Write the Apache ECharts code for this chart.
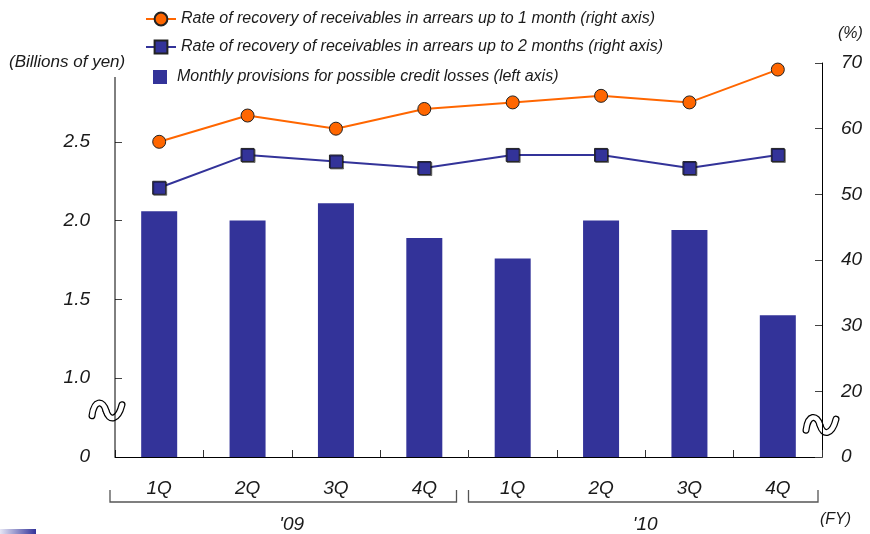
<!DOCTYPE html>
<html>
<head>
<meta charset="utf-8">
<script src="https://cdn.jsdelivr.net/npm/echarts@6/dist/echarts.min.js"></script>
<style>
  html, body { margin: 0; padding: 0; background: #fff; }
  #chart { width: 870px; height: 534px; }
</style>
</head>
<body>
<div id="chart"></div>
<script>
// Quarterly categories and fiscal-year groups
const quarters = ['1Q', '2Q', '3Q', '4Q', '1Q', '2Q', '3Q', '4Q'];
const fiscalYears = ["'09", "'10"];

// Monthly provisions for possible credit losses (billions of yen, left axis)
const provisions = [2.06, 2.00, 2.11, 1.89, 1.76, 2.00, 1.94, 1.40];
// Recovery rates (%, right axis)
const recovery1m = [58, 62, 60, 63, 64, 65, 64, 69];
const recovery2m = [51, 56, 55, 54, 56, 56, 54, 56];

// Broken-axis tick labels: the lowest tick stands for zero
const leftTickValues = [0.5, 1.0, 1.5, 2.0, 2.5];
const leftTickLabels = ['0', '1.0', '1.5', '2.0', '2.5'];
const rightTickValues = [10, 20, 30, 40, 50, 60, 70];
const rightTickLabels = ['0', '20', '30', '40', '50', '60', '70'];

const seriesNames = [
  'Rate of recovery of receivables in arrears up to 1 month (right axis)',
  'Rate of recovery of receivables in arrears up to 2 months (right axis)',
  'Monthly provisions for possible credit losses (left axis)'
];

const FONT = "'Liberation Sans', Arial, sans-serif";
const INK = '#1a1a1a';
const ORANGE = '#ff6600';
const NAVY = '#333399';

function lookup(values, labels, v) {
  const i = values.findIndex(t => Math.abs(t - v) < 1e-6);
  return i >= 0 ? labels[i] : '';
}

const chart = echarts.init(document.getElementById('chart'), null, { renderer: 'canvas' });

const legendText = { color: INK, fontSize: 16, fontStyle: 'italic', fontFamily: FONT };

chart.setOption({
  animation: false,
  backgroundColor: '#fff',
  grid: { left: 115, right: 48, top: 63, bottom: 70, containLabel: false },
  legend: [
    { data: [seriesNames[0]], left: 145, top: 11, padding: 0, itemWidth: 30, itemHeight: 16,
      selectedMode: false, textStyle: legendText },
    { data: [seriesNames[1]], left: 145, top: 39, padding: 0, itemWidth: 30, itemHeight: 16,
      selectedMode: false, textStyle: legendText },
    { data: [{ name: seriesNames[2], icon: 'rect' }], left: 153, top: 69, padding: 0,
      itemWidth: 14, itemHeight: 14, selectedMode: false,
      textStyle: Object.assign({ padding: [0, 0, 0, 5] }, legendText) }
  ],
  xAxis: [
    {
      type: 'category',
      data: quarters,
      axisLine: { lineStyle: { color: '#000', width: 1 } },
      axisTick: { show: true, inside: true, length: 7, lineStyle: { color: '#333' } },
      axisLabel: { color: INK, fontSize: 19, fontStyle: 'italic', fontFamily: FONT, margin: 22 },
      splitLine: { show: false }
    },
    {
      type: 'category',
      data: fiscalYears,
      position: 'bottom',
      axisLine: { show: false },
      axisTick: { show: false },
      axisLabel: { color: INK, fontSize: 19, fontStyle: 'italic', fontFamily: FONT, margin: 58 },
      splitLine: { show: false }
    }
  ],
  yAxis: [
    {
      type: 'value',
      position: 'left',
      min: 0.5, max: 3.0, interval: 0.5,
      axisLine: { show: false },
      axisTick: { show: true, inside: true, length: 7, customValues: [1.0, 1.5, 2.0, 2.5],
        lineStyle: { color: '#444' } },
      axisLabel: {
        customValues: leftTickValues,
        formatter: v => lookup(leftTickValues, leftTickLabels, v),
        color: INK, fontSize: 19, fontStyle: 'italic', fontFamily: FONT, margin: 25
      },
      splitLine: { show: false }
    },
    {
      type: 'value',
      position: 'right',
      min: 10, max: 70, interval: 10,
      axisLine: { show: true, lineStyle: { color: '#000', width: 1 } },
      axisTick: { show: true, inside: true, length: 7, lineStyle: { color: '#444' } },
      axisLabel: {
        formatter: v => lookup(rightTickValues, rightTickLabels, v),
        color: INK, fontSize: 19, fontStyle: 'italic', fontFamily: FONT, margin: 19
      },
      splitLine: { show: false }
    }
  ],
  series: [
    {
      name: seriesNames[0],
      type: 'line',
      yAxisIndex: 1,
      data: recovery1m,
      symbol: 'circle',
      symbolSize: 13,
      z: 4,
      lineStyle: { color: ORANGE, width: 2 },
      itemStyle: { color: ORANGE, borderColor: '#222', borderWidth: 1 }
    },
    {
      name: seriesNames[1],
      type: 'line',
      yAxisIndex: 1,
      data: recovery2m,
      symbol: 'rect',
      symbolSize: 13,
      z: 4,
      lineStyle: { color: NAVY, width: 2 },
      itemStyle: { color: NAVY, borderColor: '#222', borderWidth: 1,
        shadowColor: 'rgba(0,0,0,0.45)', shadowOffsetX: 1, shadowOffsetY: 1, shadowBlur: 0 }
    },
    {
      name: seriesNames[2],
      type: 'bar',
      yAxisIndex: 0,
      data: provisions,
      barWidth: 36,
      z: 2,
      itemStyle: { color: NAVY }
    }
  ]
});

// Decorations placed from the axes' own pixel mapping
const c0 = chart.convertToPixel({ xAxisIndex: 0 }, 0);
const c1 = chart.convertToPixel({ xAxisIndex: 0 }, 1);
const band = c1 - c0;
const bStart = c0 - band / 2;
const bMid = bStart + 4 * band;
const bEnd = bStart + 8 * band;
const axisY = chart.convertToPixel({ yAxisIndex: 0 }, 0.5);
const topY = chart.convertToPixel({ yAxisIndex: 0 }, 3.0);
const leftBreakY = chart.convertToPixel({ yAxisIndex: 0 }, 0.8);
const rightBreakY = chart.convertToPixel({ yAxisIndex: 1 }, 15.0);

// Wavy "axis break" mark: two cubic segments, drawn as a black outline with a white core
const tildeSegments = [
  { x1: -14, y1: 6, cpx1: -12, cpy1: -10, cpx2: -3, cpy2: -10, x2: 0, y2: 1 },
  { x1: 0, y1: 1, cpx1: 3, cpy1: 12, cpx2: 12, cpy2: 11, x2: 16, y2: -5 }
];
function axisBreak(x, y) {
  const outline = tildeSegments.map(s => ({ type: 'bezierCurve', shape: s,
    style: { fill: null, stroke: '#000', lineWidth: 7, lineCap: 'round' } }));
  const core = tildeSegments.map(s => ({ type: 'bezierCurve', shape: s,
    style: { fill: null, stroke: '#fff', lineWidth: 4.6, lineCap: 'round' } }));
  return { type: 'group', x: x, y: y, z: 50, children: outline.concat(core) };
}

const bracketStyle = { fill: null, stroke: '#555', lineWidth: 1.3 };
const capTop = axisY + 33;
const capBottom = axisY + 45;

chart.setOption({
  graphic: [
    // left axis line (stops a little short of the top)
    { type: 'line', z: 10, shape: { x1: bStart, y1: topY + 14, x2: bStart, y2: axisY },
      style: { stroke: '#000', lineWidth: 1 } },
    axisBreak(bStart - 9, leftBreakY),
    axisBreak(bEnd - 2, rightBreakY),
    // fiscal-year brackets
    { type: 'polyline', z: 10,
      shape: { points: [[bStart - 5, capTop], [bStart - 5, capBottom], [bMid - 12, capBottom], [bMid - 12, capTop]] },
      style: bracketStyle },
    { type: 'polyline', z: 10,
      shape: { points: [[bMid, capTop], [bMid, capBottom], [bEnd - 4, capBottom], [bEnd - 4, capTop]] },
      style: bracketStyle },
    // unit captions
    { type: 'text', left: 9, top: 54, z: 10,
      style: { text: '(Billions of yen)', fill: INK, font: 'italic 17px ' + FONT } },
    { type: 'text', left: 838, top: 26, z: 10,
      style: { text: '(%)', fill: INK, font: 'italic 16px ' + FONT } },
    { type: 'text', left: 820, top: 512, z: 10,
      style: { text: '(FY)', fill: INK, font: 'italic 16px ' + FONT } },
    // corner accent bar
    { type: 'rect', left: 0, bottom: 0, z: 10,
      shape: { width: 36, height: 5 },
      style: { fill: { type: 'linear', x: 0, y: 0, x2: 1, y2: 0, colorStops: [
        { offset: 0, color: '#e6e6f5' }, { offset: 1, color: NAVY }] } } }
  ]
});
</script>
</body>
</html>
